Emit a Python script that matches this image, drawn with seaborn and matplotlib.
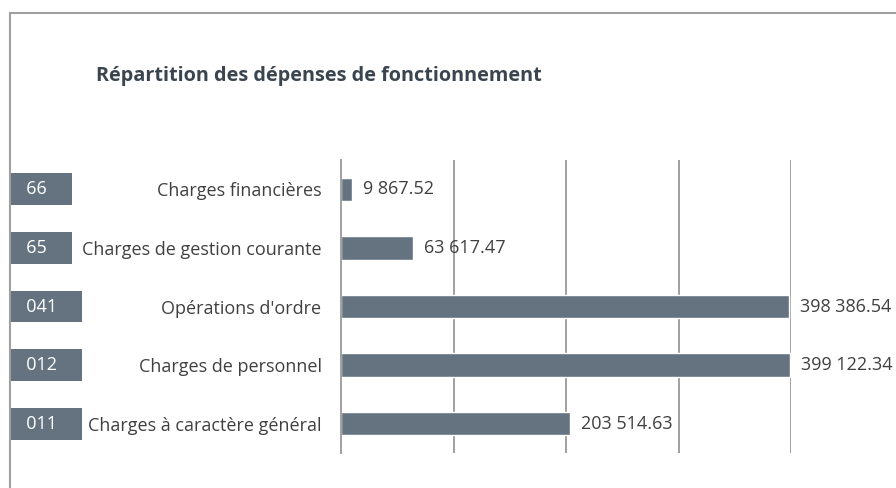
import numpy as np
import matplotlib
matplotlib.use("Agg")
import matplotlib.pyplot as plt
import matplotlib.transforms as mtransforms
from matplotlib.patches import Rectangle
import pandas as pd
import seaborn as sns

# Data -----------------------------------------------------------------------
codes = ["66", "65", "041", "012", "011"]
categories = ["Charges financières", "Charges de gestion courante",
              "Opérations d'ordre", "Charges de personnel",
              "Charges à caractère général"]
values = [9867.52, 63617.47, 398386.54, 399122.34, 203514.63]
value_labels = ["9 867.52", "63 617.47", "398 386.54", "399 122.34", "203 514.63"]

title = "Répartition des dépenses de fonctionnement"

# Style ----------------------------------------------------------------------
sns.set_theme(style="white")
plt.rcParams['font.family'] = ['Open Sans', 'DejaVu Sans']

bar_color = "#64737f"
text_color = "#404040"
grid_color = "#a0a0a0"

df = pd.DataFrame({"category": categories, "value": values})

W, H = 896, 488
fig = plt.figure(figsize=(W / 100, H / 100), dpi=100)
ax = fig.add_axes([341 / W, 1 - 453 / H, (791 - 341) / W, (453 - 160) / H])

sns.barplot(data=df, x="value", y="category", orient="h", color=bar_color,
            width=0.4, saturation=1, ax=ax)

ax.set_xlim(0, 400000)
ax.set_ylim(len(categories) - 0.5, -0.5)
ax.set_xlabel("")
ax.set_ylabel("")

# vertical gridlines, no x tick labels
ax.set_xticks([100000, 200000, 300000, 400000])
ax.set_xticklabels([])
ax.tick_params(axis="x", length=0)
ax.grid(axis="x", color=grid_color, linewidth=1.4)
ax.set_axisbelow(True)

# category ticks at boundaries (Excel style)
ax.set_yticks(np.arange(-0.5, len(categories), 1.0), minor=True)
ax.tick_params(axis="y", which="minor", length=5, width=1.4, color=grid_color, direction="out")
ax.tick_params(axis="y", which="major", length=0, pad=14, labelsize=13, labelcolor=text_color)

for s in ["top", "right", "bottom"]:
    ax.spines[s].set_visible(False)
ax.spines["left"].set_color(grid_color)
ax.spines["left"].set_linewidth(1.4)

# value labels
for i, (v, lab) in enumerate(zip(values, value_labels)):
    ax.annotate(lab, (v, i), xytext=(8, 0), textcoords="offset points",
                va="center", ha="left", fontsize=13, color=text_color,
                annotation_clip=False)

# code boxes on the left
pad_px = 7
trans = mtransforms.blended_transform_factory(fig.transFigure, ax.transData)
for i, code in enumerate(codes):
    ax.text((10 + pad_px) / W, i, "  " + code + "    ", transform=trans,
            ha="left", va="center", fontsize=13, color="white", clip_on=False,
            bbox=dict(boxstyle="square,pad=0.38", fc=bar_color, ec="none"))

# title
fig.text(96 / W, 1 - 76 / H, title, fontsize=14.3, fontweight="bold",
         color="#3b4550", ha="left", va="center")

# chart frame
fig.patches.append(Rectangle((10 / W, -0.1), 1.2, 1 - 13 / H + 0.1,
                             transform=fig.transFigure, fill=False,
                             edgecolor=grid_color, linewidth=1.5))

fig.savefig("out.png", dpi=100)
